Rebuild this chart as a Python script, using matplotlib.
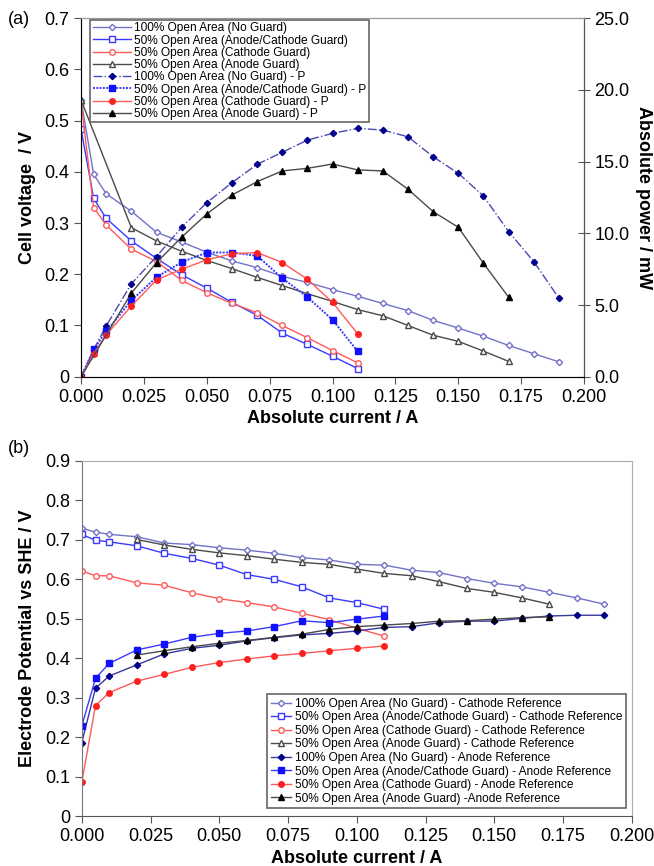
import matplotlib.pyplot as plt
import numpy as np

plt.rcParams['font.family'] = ['Liberation Sans', 'DejaVu Sans']

# ---- panel (a): cell voltage and power vs current ----
i_full = [0, 0.005, 0.01, 0.02, 0.03, 0.04, 0.05, 0.06, 0.07, 0.08, 0.09, 0.10,
          0.11, 0.12, 0.13, 0.14, 0.15, 0.16, 0.17, 0.18, 0.19]
i_short = [0, 0.005, 0.01, 0.02, 0.03, 0.04, 0.05, 0.06, 0.07, 0.08, 0.09, 0.10, 0.11]
i_anode = [0, 0.02, 0.03, 0.04, 0.05, 0.06, 0.07, 0.08, 0.09, 0.10, 0.11, 0.12,
           0.13, 0.14, 0.15, 0.16, 0.17]

v_noguard = [0.54, 0.395, 0.357, 0.323, 0.282, 0.263, 0.243, 0.226, 0.213, 0.196, 0.184,
             0.170, 0.157, 0.143, 0.129, 0.110, 0.095, 0.079, 0.061, 0.045, 0.029]
v_acguard = [0.483, 0.348, 0.309, 0.265, 0.231, 0.199, 0.173, 0.145, 0.120, 0.085, 0.063,
             0.040, 0.016]
v_cguard = [0.535, 0.330, 0.296, 0.249, 0.225, 0.188, 0.164, 0.143, 0.125, 0.100, 0.076,
            0.051, 0.027]
v_aguard = [0.54, 0.291, 0.265, 0.245, 0.227, 0.211, 0.194, 0.178, 0.162, 0.147, 0.131,
            0.119, 0.100, 0.081, 0.069, 0.050, 0.030]

p_noguard = [0, 1.88, 3.55, 6.48, 8.38, 10.42, 12.14, 13.53, 14.81, 15.65, 16.5, 16.97,
             17.32, 17.2, 16.73, 15.34, 14.18, 12.6, 10.12, 8.03, 5.48]
p_acguard = [0, 1.9, 3.16, 5.32, 6.94, 7.99, 8.66, 8.66, 8.43, 6.87, 5.55, 3.97, 1.76]
p_cguard = [0, 1.6, 2.92, 4.94, 6.75, 7.5, 8.15, 8.57, 8.66, 7.96, 6.80, 5.18, 2.99]
p_aguard = [0, 5.83, 7.96, 9.73, 11.35, 12.67, 13.6, 14.35, 14.53, 14.83, 14.42, 14.35,
            13.07, 11.51, 10.42, 7.91, 5.55]

labels_a = ['100% Open Area (No Guard)', '50% Open Area (Anode/Cathode Guard)',
            '50% Open Area (Cathode Guard)', '50% Open Area (Anode Guard)',
            '100% Open Area (No Guard) - P', '50% Open Area (Anode/Cathode Guard) - P',
            '50% Open Area (Cathode Guard) - P', '50% Open Area (Anode Guard) - P']

# ---- panel (b): electrode potentials ----
i_anode_b = [0.02, 0.03, 0.04, 0.05, 0.06, 0.07, 0.08, 0.09, 0.10, 0.11, 0.12, 0.13,
             0.14, 0.15, 0.16, 0.17]

c_noguard = [0.729, 0.720, 0.714, 0.708, 0.692, 0.688, 0.680, 0.674, 0.666, 0.655, 0.649,
             0.638, 0.636, 0.623, 0.617, 0.602, 0.590, 0.581, 0.567, 0.553, 0.537]
c_acguard = [0.714, 0.699, 0.695, 0.685, 0.666, 0.653, 0.636, 0.612, 0.600, 0.581, 0.553,
             0.541, 0.524]
c_cguard = [0.621, 0.609, 0.609, 0.591, 0.585, 0.566, 0.551, 0.541, 0.530, 0.514, 0.498,
            0.476, 0.456]
c_aguard = [0.701, 0.687, 0.676, 0.667, 0.660, 0.651, 0.643, 0.638, 0.626, 0.615, 0.609,
            0.594, 0.577, 0.567, 0.553, 0.537]

a_noguard = [0.186, 0.324, 0.355, 0.383, 0.411, 0.425, 0.433, 0.444, 0.452, 0.459, 0.463,
             0.469, 0.478, 0.480, 0.490, 0.494, 0.494, 0.501, 0.507, 0.509, 0.509]
a_acguard = [0.228, 0.349, 0.387, 0.421, 0.436, 0.453, 0.463, 0.469, 0.480, 0.495, 0.490,
             0.499, 0.507]
a_cguard = [0.085, 0.280, 0.313, 0.342, 0.359, 0.377, 0.389, 0.398, 0.406, 0.412, 0.419,
            0.425, 0.431]
a_aguard = [0.408, 0.419, 0.429, 0.438, 0.445, 0.453, 0.461, 0.473, 0.480, 0.484, 0.488,
            0.494, 0.495, 0.499, 0.503, 0.505]

labels_b = ['100% Open Area (No Guard) - Cathode Reference',
            '50% Open Area (Anode/Cathode Guard) - Cathode Reference',
            '50% Open Area (Cathode Guard) - Cathode Reference',
            '50% Open Area (Anode Guard) - Cathode Reference',
            '100% Open Area (No Guard) - Anode Reference',
            '50% Open Area (Anode/Cathode Guard) - Anode Reference',
            '50% Open Area (Cathode Guard) - Anode Reference',
            '50% Open Area (Anode Guard) -Anode Reference']

x_ticks = [0, 0.025, 0.05, 0.075, 0.1, 0.125, 0.15, 0.175, 0.2]

c_slate = '#7272c8'
c_blue = '#3a3aff'
c_red = '#ff5a5a'
c_gray = '#4a4a4a'
c_navy = '#00008b'
c_redf = '#ff2020'

fig = plt.figure(figsize=(6.54, 8.66), dpi=100)

# ------------ (a) ------------
ax = fig.add_axes([0.124, 0.565, 0.769, 0.414])
ax2 = ax.twinx()

ms = 4
h = []
h += ax.plot(i_full, v_noguard, '-', marker='D', ms=3.2, mfc='white', color=c_slate, lw=1)
h += ax.plot(i_short, v_acguard, '-', marker='s', ms=ms, mfc='white', color=c_blue, lw=1)
h += ax.plot(i_short, v_cguard, '-', marker='o', ms=ms, mfc='white', color=c_red, lw=1)
h += ax.plot(i_anode, v_aguard, '-', marker='^', ms=ms, mfc='white', color=c_gray, lw=1)
h += ax2.plot(i_full, p_noguard, linestyle='-.', marker='D', ms=3.2, color='#4848b8',
              mfc=c_navy, mec=c_navy, lw=1)
h += ax2.plot(i_short, p_acguard, linestyle=(0, (1, 0.7)), marker='s', ms=ms, color=c_blue,
              mfc='#1010ff', mec='#1010ff', lw=1.4)
h += ax2.plot(i_short, p_cguard, '-', marker='o', ms=ms, color=c_red, mfc=c_redf,
              mec=c_redf, lw=1)
h += ax2.plot(i_anode, p_aguard, '-', marker='^', ms=ms, color=c_gray, mfc='black',
              mec='black', lw=1)

for a in (ax, ax2):
    a.set_xlim(0, 0.2)
    a.spines['top'].set_color('#999999')
ax.set_ylim(0, 0.7)
ax2.set_ylim(0, 25)
ax.set_xticks(x_ticks)
ax.set_xticklabels(['%.3f' % t for t in x_ticks])
ax.set_yticks(np.arange(0, 0.71, 0.1))
ax.set_yticklabels(['0'] + ['%.1f' % t for t in np.arange(0.1, 0.71, 0.1)])
ax2.set_yticks(np.arange(0, 26, 5))
ax2.set_yticklabels(['%.1f' % t for t in np.arange(0, 26, 5)])
ax.tick_params(labelsize=13, direction='out', length=5, color='#555555')
ax2.tick_params(labelsize=13, direction='inout', length=8, color='#555555')
ax.spines['left'].set_color('#777777')
ax.spines['bottom'].set_color('#555555')
ax2.spines['right'].set_color('#555555')
ax.set_ylabel('Cell voltage  / V', fontsize=13, fontweight='bold', labelpad=6)
ax2.set_ylabel('Absolute power / mW', fontsize=13, fontweight='bold', rotation=270,
               labelpad=16)
ax.set_xlabel('Absolute current / A', fontsize=13, fontweight='bold', labelpad=3)

leg = ax2.legend(h, labels_a, loc='upper left', bbox_to_anchor=(0.018, 0.995), fontsize=8.6,
                 labelspacing=0.02, handlelength=3.2, handletextpad=0.3,
                 borderpad=0.2, borderaxespad=0, fancybox=False, framealpha=1,
                 edgecolor='#666666')
leg.get_frame().set_linewidth(1.2)
fig.text(0.012, 0.972, '(a)', fontsize=13)

# ------------ (b) ------------
bx = fig.add_axes([0.125, 0.0577, 0.841, 0.410])
g = []
g += bx.plot(i_full, c_noguard, '-', marker='D', ms=3.2, mfc='white', color=c_slate, lw=1)
g += bx.plot(i_short, c_acguard, '-', marker='s', ms=ms, mfc='white', color=c_blue, lw=1)
g += bx.plot(i_short, c_cguard, '-', marker='o', ms=ms, mfc='white', color=c_red, lw=1)
g += bx.plot(i_anode_b, c_aguard, '-', marker='^', ms=ms, mfc='white', color=c_gray, lw=1)
g += bx.plot(i_full, a_noguard, '-', marker='D', ms=3.2, color='#3838a0', mfc=c_navy,
             mec=c_navy, lw=1)
g += bx.plot(i_short, a_acguard, '-', marker='s', ms=ms, color=c_blue, mfc='#1010ff',
             mec='#1010ff', lw=1)
g += bx.plot(i_short, a_cguard, '-', marker='o', ms=ms, color=c_red, mfc=c_redf,
             mec=c_redf, lw=1)
g += bx.plot(i_anode_b, a_aguard, '-', marker='^', ms=ms, color=c_gray, mfc='black',
             mec='black', lw=1)

bx.set_xlim(0, 0.2)
bx.set_ylim(0, 0.9)
bx.set_xticks(x_ticks)
bx.set_xticklabels(['%.3f' % t for t in x_ticks])
bx.set_yticks(np.arange(0, 0.91, 0.1))
bx.set_yticklabels(['0'] + ['%.1f' % t for t in np.arange(0.1, 0.91, 0.1)])
bx.tick_params(labelsize=13, direction='out', length=5, color='#555555')
bx.spines['top'].set_color('#aaaaaa')
bx.spines['right'].set_color('#aaaaaa')
bx.spines['left'].set_color('#777777')
bx.spines['bottom'].set_color('#555555')
bx.set_ylabel('Electrode Potential vs SHE / V', fontsize=13, fontweight='bold', labelpad=6)
bx.set_xlabel('Absolute current / A', fontsize=13, fontweight='bold', labelpad=4)

leg2 = bx.legend(g, labels_b, loc='lower right', bbox_to_anchor=(0.989, 0.022), fontsize=8.6,
                 labelspacing=0.13, handlelength=1.7, handletextpad=0.3,
                 borderpad=0.3, borderaxespad=0, fancybox=False, framealpha=1,
                 edgecolor='#666666')
leg2.get_frame().set_linewidth(1.2)
fig.text(0.012, 0.477, '(b)', fontsize=13)

fig.savefig('out.png', dpi=100)
